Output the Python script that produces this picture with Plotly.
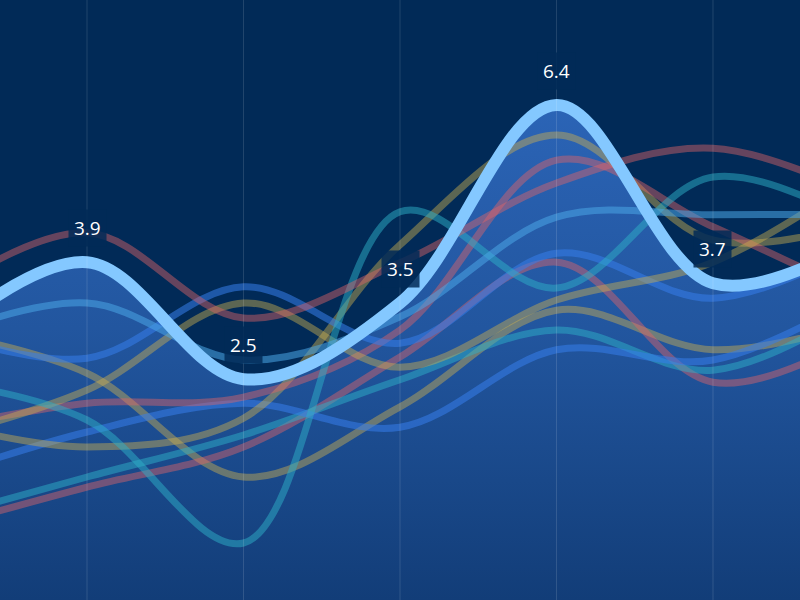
import plotly.graph_objects as go

# x positions (0..4 are the visible grid columns; -1 and 5 lie just outside the view)
x_pos = [-1, 0, 1, 2, 3, 4, 5]
grid_x = [0, 1, 2, 3, 4]

# highlighted series (axis units) and the labels shown above it
main_vals = [4.25, 5.63, 3.68, 4.95, 8.25, 5.28, 6.08]
label_text = ["3.9", "2.5", "3.5", "6.4", "3.7"]

# background series
light_blue = [4.33, 4.95, 4.00, 4.72, 6.38, 6.42, 6.42]
red_1 = [5.00, 6.12, 4.70, 5.62, 6.95, 7.53, 6.67]
red_2 = [2.83, 3.28, 3.38, 4.50, 7.33, 6.22, 5.00]
red_3 = [1.17, 1.88, 2.55, 4.05, 5.63, 3.63, 4.50]
yellow_1 = [3.00, 2.55, 3.03, 5.92, 7.75, 6.00, 6.33]
yellow_2 = [2.67, 3.50, 4.95, 3.88, 5.00, 5.63, 7.17]
yellow_3 = [4.50, 3.78, 2.05, 3.22, 4.83, 4.17, 4.67]
teal_1 = [3.67, 3.00, 0.95, 6.47, 5.20, 7.05, 6.17]
teal_2 = [1.33, 2.05, 2.75, 3.67, 4.50, 3.83, 5.00]
blue_1 = [4.50, 4.03, 5.22, 4.28, 5.78, 5.03, 6.00]
blue_2 = [2.00, 2.80, 3.28, 2.88, 4.17, 4.00, 5.17]

RED = "rgba(225,100,105,0.45)"
YEL = "rgba(205,175,80,0.45)"
TEAL = "rgba(45,175,200,0.5)"
LBLUE = "rgba(75,165,230,0.55)"
BLUE = "rgba(55,125,235,0.55)"

background = [
    (yellow_3, YEL), (red_3, RED), (teal_2, TEAL), (blue_2, BLUE),
    (yellow_1, YEL), (red_2, RED), (blue_1, BLUE), (yellow_2, YEL),
    (teal_1, TEAL), (light_blue, LBLUE), (red_1, RED),
]

fig = go.Figure()

# area under the highlighted series
fig.add_trace(go.Scatter(
    x=x_pos, y=main_vals, mode="lines",
    line=dict(width=0, shape="spline", smoothing=1.0),
    fill="tozeroy",
    fillgradient=dict(type="vertical",
                      colorscale=[[0, "#123d78"], [0.55, "#22569f"], [1, "#2b64b6"]],
                      start=0, stop=max(main_vals)),
    hoverinfo="skip", showlegend=False,
))

for vals, col in background:
    fig.add_trace(go.Scatter(
        x=x_pos, y=vals, mode="lines",
        line=dict(color=col, width=7, shape="spline", smoothing=1.0),
        hoverinfo="skip", showlegend=False,
    ))

fig.add_trace(go.Scatter(
    x=x_pos, y=main_vals, mode="lines",
    line=dict(color="#84c8ff", width=12, shape="spline", smoothing=1.0),
    hoverinfo="skip", showlegend=False,
))

for gx in grid_x:
    fig.add_shape(type="line", x0=gx, x1=gx, xref="x", y0=0, y1=1, yref="paper",
                  line=dict(color="rgba(255,255,255,0.13)", width=1), layer="above")

for i, txt in enumerate(label_text):
    fig.add_annotation(
        x=x_pos[i + 1], y=main_vals[i + 1], text=txt, showarrow=False,
        yshift=34, font=dict(family="Open Sans", size=19, color="white"),
        bgcolor="rgba(1,42,87,0.85)", borderpad=5,
    )

fig.update_layout(
    width=800, height=600,
    margin=dict(l=0, r=0, t=0, b=0),
    paper_bgcolor="#012a57", plot_bgcolor="#012a57",
    xaxis=dict(range=[-0.556, 4.556], showgrid=False, zeroline=False,
               showticklabels=False, fixedrange=True),
    yaxis=dict(range=[0, 10], showgrid=False, zeroline=False,
               showticklabels=False, fixedrange=True),
)

fig.write_html(
    "out.html",
    config={"displayModeBar": False},
    post_script="document.body.style.margin='0';document.body.style.overflow='hidden';",
)
